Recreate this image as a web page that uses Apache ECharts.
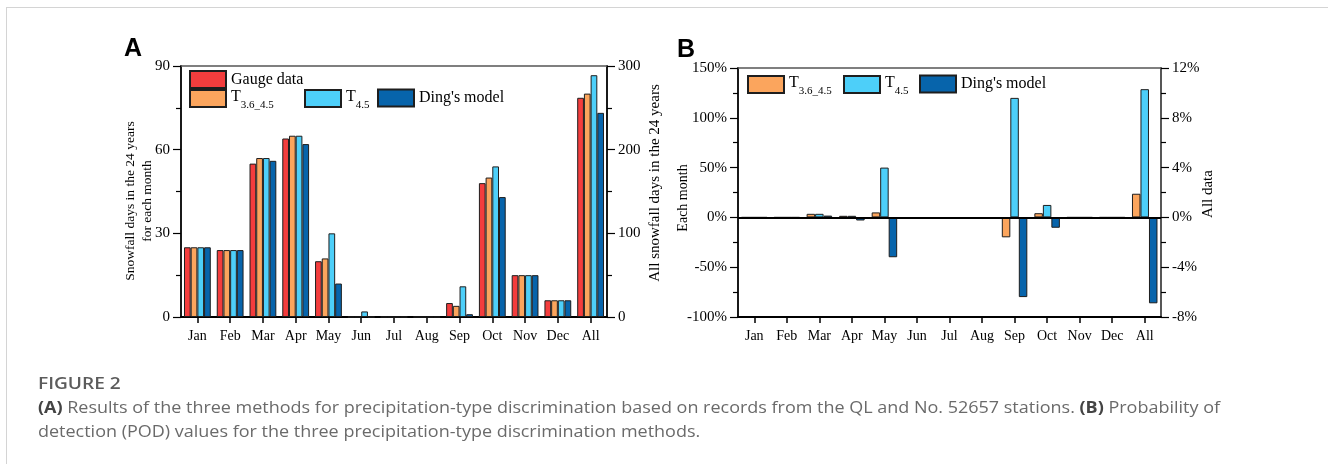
<!DOCTYPE html>
<html>
<head>
<meta charset="utf-8">
<title>Figure 2</title>
<script src="https://cdn.jsdelivr.net/npm/echarts@6/dist/echarts.min.js"></script>
<style>
  html, body { margin: 0; padding: 0; background: #fff; overflow: hidden; }
  #frame { position: absolute; left: 6px; top: 7px; width: 1340px; height: 480px;
           border-top: 1px solid #d4d4d4; border-left: 1px solid #d4d4d4; }
  #chart { position: absolute; left: 0; top: 0; width: 1328px; height: 464px; }
  .cap { position: absolute; left: 38px; font-family: "Open Sans", sans-serif; color: #6a6a6a;
         white-space: nowrap; line-height: 24px; transform-origin: 0 0; }
  .cap b { color: #444; font-weight: 700; }
  #figno { color: #5c5c5c; font-weight: 600; }
</style>
</head>
<body>
<div id="frame"></div>
<div id="chart"></div>
<div class="cap" id="figno" style="top:371px;font-size:17px;">FIGURE 2</div>
<div class="cap" id="cap1" style="top:395px;font-size:16px;"><b>(A)</b> Results of the three methods for precipitation-type discrimination based on records from the QL and No. 52657 stations. <b>(B)</b> Probability of</div>
<div class="cap" id="cap2" style="top:419px;font-size:16px;">detection (POD) values for the three precipitation-type discrimination methods.</div>

<script>
// ---- data ----
const months = ['Jan', 'Feb', 'Mar', 'Apr', 'May', 'Jun', 'Jul', 'Aug', 'Sep', 'Oct', 'Nov', 'Dec', 'All'];

// Snowfall days per month over the 24 years (left axis)
const gaugeMonthly = [25, 24, 55, 64, 20, 0, 0, 0, 5, 48, 15, 6];
const t36Monthly   = [25, 24, 57, 65, 21, 0, 0, 0, 4, 50, 15, 6];
const t45Monthly   = [25, 24, 57, 65, 30, 2, 0, 0, 11, 54, 15, 6];
const dingMonthly  = [25, 24, 56, 62, 12, 0, 0, 0, 1, 43, 15, 6];

// All snowfall days in the 24 years (right axis)
const gaugeAll = 262;
const t36All   = 267;
const t45All   = 289;
const dingAll  = 244;

// POD deviation for each month, % (left axis of panel B)
const podT36Monthly  = [0, 0, 3.6, 1.6, 5, null, null, null, -20, 4.2, 0, 0];
const podT45Monthly  = [0, 0, 3.6, 1.6, 50, null, null, null, 120, 12.5, 0, 0];
const podDingMonthly = [0, 0, 1.8, -3.1, -40, null, null, null, -80, -10.4, 0, 0];

// POD deviation for all data, % (right axis of panel B)
const podT36All  = 1.9;
const podT45All  = 10.3;
const podDingAll = -6.9;

// ---- style ----
const SERIF = '"Liberation Serif", "Times New Roman", serif';
const SANS = '"Liberation Sans", Arial, sans-serif';
const COLORS = {
  gauge: '#f43d3d',
  t36: '#fba55d',
  t45: '#4dcff9',
  ding: '#0764ab'
};
const BORDER = '#1e1e1e';

const NAME_GAUGE = 'Gauge data';
const NAME_T36 = 'T3.6_4.5';
const NAME_T45 = 'T4.5';
const NAME_DING = "Ding's model";

const monthsOnly = (arr) => arr.concat([null]);
const allOnly = (v) => months.slice(0, 12).map(() => null).concat([v]);

function barSeries(name, color, xi, yi, data, width) {
  return {
    type: 'bar', name, xAxisIndex: xi, yAxisIndex: yi, data,
    barWidth: width, barGap: '0%',
    itemStyle: { color, borderColor: BORDER, borderWidth: 1 },
    emphasis: { disabled: true }
  };
}

function catAxis(grid, position, visible) {
  return {
    type: 'category', gridIndex: grid, position, data: months,
    axisLine: { show: true, onZero: false, lineStyle: { color: visible ? '#000' : '#555', width: visible ? 2 : 1.5 } },
    axisTick: { show: visible, alignWithLabel: true, interval: 0, length: 6, lineStyle: { color: '#000', width: 1.5 } },
    axisLabel: { show: visible, interval: 0, fontFamily: SERIF, fontSize: 14, color: '#000', margin: 12 },
    splitLine: { show: false }
  };
}

function valAxis(grid, position, min, max, interval, fmt, lineColor) {
  return {
    type: 'value', gridIndex: grid, position, min, max, interval,
    axisLine: { show: true, onZero: false, lineStyle: { color: lineColor, width: 1.8 } },
    axisTick: { show: true, inside: false, length: 8, lineStyle: { color: '#000', width: 1.2 } },
    minorTick: { show: true, splitNumber: 2, length: 5, lineStyle: { color: '#000', width: 1.2 } },
    axisLabel: { fontFamily: SERIF, fontSize: 15, color: '#000', margin: 11, formatter: fmt },
    splitLine: { show: false },
    minorSplitLine: { show: false }
  };
}

function legendAt(name, left, top) {
  return {
    data: [name], left, top, padding: 0, itemGap: 0,
    icon: 'rect', itemWidth: 36, itemHeight: 17,
    selectedMode: false,
    textStyle: {
      fontFamily: SERIF, fontSize: 16, color: '#000', lineHeight: 18,
      rich: {
        m: { fontFamily: SERIF, fontSize: 16, color: '#000', lineHeight: 20, verticalAlign: 'top' },
        s: { fontFamily: SERIF, fontSize: 11, color: '#000', lineHeight: 11, padding: [11, 0, 0, 0], verticalAlign: 'top' }
      }
    },
    formatter: function (n) {
      if (n === NAME_T36) return '{m|T}{s|3.6_4.5}';
      if (n === NAME_T45) return '{m|T}{s|4.5}';
      return n;
    }
  };
}

function vText(text, x, y, size) {
  return {
    type: 'text', x, y, rotation: Math.PI / 2, silent: true,
    style: { text, fontFamily: SERIF, fontSize: size, fill: '#000', align: 'center', verticalAlign: 'middle', lineHeight: size + 4 }
  };
}

const podZeroLine = {
  silent: true, symbol: 'none', label: { show: false },
  lineStyle: { color: '#000', width: 2, type: 'solid' },
  data: [{ yAxis: 0 }]
};

const bT36 = barSeries(NAME_T36, COLORS.t36, 2, 2, monthsOnly(podT36Monthly), 8.5);
bT36.markLine = podZeroLine;

const option = {
  animation: false,
  backgroundColor: 'transparent',
  grid: [
    { left: 181, top: 66, width: 426, height: 251, containLabel: false },
    { left: 738, top: 68, width: 423, height: 249, containLabel: false }
  ],
  xAxis: [
    catAxis(0, 'bottom', true),
    catAxis(0, 'top', false),
    catAxis(1, 'bottom', true),
    catAxis(1, 'top', false)
  ],
  yAxis: [
    valAxis(0, 'left', 0, 90, 30, '{value}', '#000'),
    valAxis(0, 'right', 0, 300, 100, '{value}', '#000'),
    valAxis(1, 'left', -100, 150, 50, '{value}%', '#000'),
    valAxis(1, 'right', -8, 12, 4, '{value}%', '#444')
  ],
  legend: [
    legendAt(NAME_GAUGE, 189, 70),
    legendAt(NAME_T36, 189, 88.5),
    legendAt(NAME_T45, 304, 88.5),
    legendAt(NAME_DING, 377, 88.5),
    legendAt(NAME_T36, 747, 74.5),
    legendAt(NAME_T45, 843, 74.5),
    legendAt(NAME_DING, 919, 74.5)
  ],
  graphic: [
    { type: 'text', x: 124, y: 49, silent: true,
      style: { text: 'A', fontFamily: SANS, fontWeight: 'bold', fontSize: 25, fill: '#000', align: 'left', verticalAlign: 'middle' } },
    { type: 'text', x: 677, y: 50, silent: true,
      style: { text: 'B', fontFamily: SANS, fontWeight: 'bold', fontSize: 25, fill: '#000', align: 'left', verticalAlign: 'middle' } },
    vText('Snowfall days in the 24 years\nfor each month', 139, 201, 13.5),
    vText('All snowfall days in the 24 years', 655, 183, 15),
    vText('Each month', 683, 198, 14),
    vText('All data', 1208, 194, 15)
  ],
  series: [
    // panel A, monthly values on the left axis
    barSeries(NAME_GAUGE, COLORS.gauge, 0, 0, monthsOnly(gaugeMonthly), 6.7),
    barSeries(NAME_T36, COLORS.t36, 0, 0, monthsOnly(t36Monthly), 6.7),
    barSeries(NAME_T45, COLORS.t45, 0, 0, monthsOnly(t45Monthly), 6.7),
    barSeries(NAME_DING, COLORS.ding, 0, 0, monthsOnly(dingMonthly), 6.7),
    // panel A, totals on the right axis
    barSeries(NAME_GAUGE, COLORS.gauge, 1, 1, allOnly(gaugeAll), 6.7),
    barSeries(NAME_T36, COLORS.t36, 1, 1, allOnly(t36All), 6.7),
    barSeries(NAME_T45, COLORS.t45, 1, 1, allOnly(t45All), 6.7),
    barSeries(NAME_DING, COLORS.ding, 1, 1, allOnly(dingAll), 6.7),
    // panel B, monthly POD on the left axis
    bT36,
    barSeries(NAME_T45, COLORS.t45, 2, 2, monthsOnly(podT45Monthly), 8.5),
    barSeries(NAME_DING, COLORS.ding, 2, 2, monthsOnly(podDingMonthly), 8.5),
    // panel B, overall POD on the right axis
    barSeries(NAME_T36, COLORS.t36, 3, 3, allOnly(podT36All), 8.5),
    barSeries(NAME_T45, COLORS.t45, 3, 3, allOnly(podT45All), 8.5),
    barSeries(NAME_DING, COLORS.ding, 3, 3, allOnly(podDingAll), 8.5)
  ]
};

const chart = echarts.init(document.getElementById('chart'), null, { renderer: 'canvas' });
chart.setOption(option);

// stretch the caption so its first line spans the figure width
function fitCaption() {
  const c1 = document.getElementById('cap1');
  c1.style.transform = 'none';
  const w = c1.getBoundingClientRect().width;
  const k = 1182 / w;
  ['figno', 'cap1', 'cap2'].forEach(id => {
    document.getElementById(id).style.transform = 'scaleX(' + k + ')';
  });
}
fitCaption();
if (document.fonts && document.fonts.ready) document.fonts.ready.then(fitCaption);
</script>
</body>
</html>
